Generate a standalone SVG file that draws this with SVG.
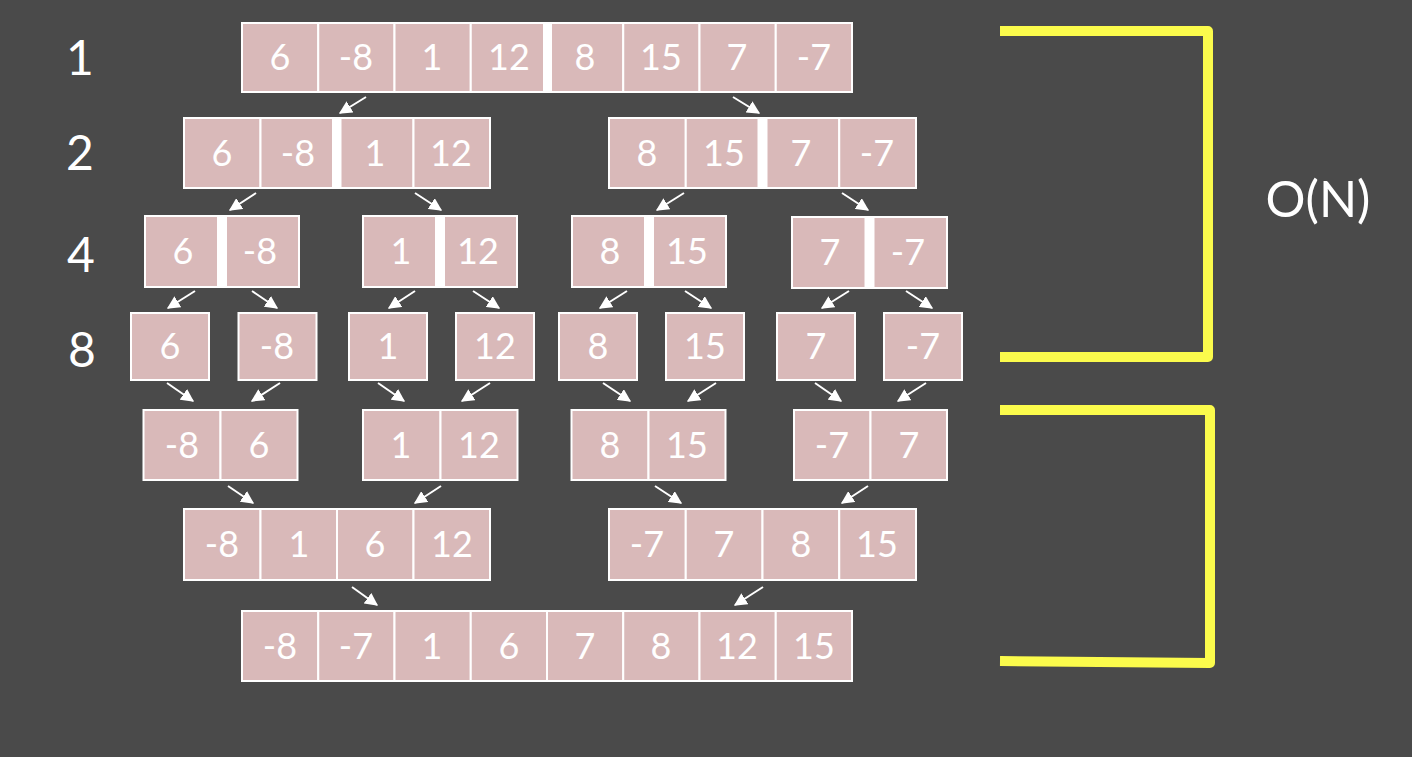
<svg xmlns="http://www.w3.org/2000/svg" width="1412" height="757" viewBox="0 0 1412 757">
<defs>
<style>
.c{fill:#d9b9b9;stroke:#ffffff;stroke-width:2}
.bar{fill:#ffffff}
.t{font-family:Lato,"Open Sans","Liberation Sans",sans-serif;font-size:36px;fill:#ffffff;text-anchor:middle}
.lbl{font-family:Lato,"Open Sans","Liberation Sans",sans-serif;font-size:48px;fill:#ffffff;text-anchor:middle}
.on{font-family:Lato,"Open Sans","Liberation Sans",sans-serif;font-size:50px;fill:#ffffff;text-anchor:middle}
.ar{stroke:#ffffff;stroke-width:2;fill:none;marker-end:url(#ah)}
.br{stroke:#fbfb4c;stroke-width:10;fill:none;stroke-linejoin:round}
</style>
<marker id="ah" viewBox="0 0 10 10" refX="9" refY="5" markerWidth="13" markerHeight="13" markerUnits="userSpaceOnUse" orient="auto">
<path d="M0,0 L10,5 L0,10 z" fill="#ffffff"/>
</marker>
</defs>
<rect width="1412" height="757" fill="#4a4a4a"/>

<g id="level-labels">
<text class="lbl" x="80" y="75">1</text>
<text class="lbl" x="80" y="170">2</text>
<text class="lbl" x="81" y="272">4</text>
<text class="lbl" x="82" y="367">8</text>
</g>

<g id="row1">
<rect class="c" x="242" y="23" width="76.25" height="69"/>
<rect class="c" x="318.25" y="23" width="76.25" height="69"/>
<rect class="c" x="394.5" y="23" width="76.25" height="69"/>
<rect class="c" x="470.75" y="23" width="76.25" height="69"/>
<rect class="c" x="547" y="23" width="76.25" height="69"/>
<rect class="c" x="623.25" y="23" width="76.25" height="69"/>
<rect class="c" x="699.5" y="23" width="76.25" height="69"/>
<rect class="c" x="775.75" y="23" width="76.25" height="69"/>
<rect class="bar" x="543" y="22" width="9" height="71"/>
<text class="t" x="280" y="70">6</text>
<text class="t" x="356" y="70">-8</text>
<text class="t" x="432" y="70">1</text>
<text class="t" x="509" y="70">12</text>
<text class="t" x="585" y="70">8</text>
<text class="t" x="661" y="70">15</text>
<text class="t" x="737" y="70">7</text>
<text class="t" x="814" y="70">-7</text>
</g>

<g id="row2-left">
<rect class="c" x="184" y="118" width="76.5" height="70"/>
<rect class="c" x="260.5" y="118" width="76.5" height="70"/>
<rect class="c" x="337" y="118" width="76.5" height="70"/>
<rect class="c" x="413.5" y="118" width="76.5" height="70"/>
<rect class="bar" x="332" y="117" width="9.5" height="72"/>
<text class="t" x="222" y="166">6</text>
<text class="t" x="298" y="166">-8</text>
<text class="t" x="375" y="166">1</text>
<text class="t" x="451" y="166">12</text>
</g>
<g id="row2-right">
<rect class="c" x="609" y="118" width="76.75" height="70"/>
<rect class="c" x="685.75" y="118" width="76.75" height="70"/>
<rect class="c" x="762.5" y="118" width="76.75" height="70"/>
<rect class="c" x="839.25" y="118" width="76.75" height="70"/>
<rect class="bar" x="757.5" y="117" width="10" height="72"/>
<text class="t" x="647" y="166">8</text>
<text class="t" x="724" y="166">15</text>
<text class="t" x="801" y="166">7</text>
<text class="t" x="877" y="166">-7</text>
</g>

<g id="row4-a">
<rect class="c" x="145" y="216" width="77" height="71"/>
<rect class="c" x="222" y="216" width="77" height="71"/>
<rect class="bar" x="217" y="215" width="10" height="73"/>
<text class="t" x="183" y="264">6</text>
<text class="t" x="260" y="264">-8</text>
</g>
<g id="row4-b">
<rect class="c" x="363" y="216" width="77" height="71"/>
<rect class="c" x="440" y="216" width="77" height="71"/>
<rect class="bar" x="435" y="215" width="10" height="73"/>
<text class="t" x="401" y="264">1</text>
<text class="t" x="478" y="264">12</text>
</g>
<g id="row4-c">
<rect class="c" x="572" y="216" width="77" height="71"/>
<rect class="c" x="649" y="216" width="77" height="71"/>
<rect class="bar" x="644" y="215" width="10" height="73"/>
<text class="t" x="610" y="264">8</text>
<text class="t" x="687" y="264">15</text>
</g>
<g id="row4-d">
<rect class="c" x="792" y="217" width="77.5" height="71"/>
<rect class="c" x="869.5" y="217" width="77.5" height="71"/>
<rect class="bar" x="864.5" y="216" width="10" height="73"/>
<text class="t" x="830" y="265">7</text>
<text class="t" x="908" y="265">-7</text>
</g>

<g id="row8">
<rect class="c" x="131" y="313" width="78" height="67"/>
<rect class="c" x="238.5" y="313" width="78" height="67"/>
<rect class="c" x="349" y="313" width="78" height="67"/>
<rect class="c" x="456" y="313" width="78" height="67"/>
<rect class="c" x="559" y="313" width="78" height="67"/>
<rect class="c" x="666" y="313" width="78" height="67"/>
<rect class="c" x="777" y="313" width="78" height="67"/>
<rect class="c" x="884" y="313" width="78" height="67"/>
<text class="t" x="170" y="359">6</text>
<text class="t" x="277" y="359">-8</text>
<text class="t" x="388" y="359">1</text>
<text class="t" x="495" y="359">12</text>
<text class="t" x="598" y="359">8</text>
<text class="t" x="705" y="359">15</text>
<text class="t" x="816" y="359">7</text>
<text class="t" x="923" y="359">-7</text>
</g>

<g id="row5-a">
<rect class="c" x="143.5" y="410" width="77" height="70"/>
<rect class="c" x="220.5" y="410" width="77" height="70"/>
<text class="t" x="182" y="458">-8</text>
<text class="t" x="259" y="458">6</text>
</g>
<g id="row5-b">
<rect class="c" x="363" y="410" width="77.5" height="70"/>
<rect class="c" x="440.5" y="410" width="77" height="70"/>
<text class="t" x="401" y="458">1</text>
<text class="t" x="479" y="458">12</text>
</g>
<g id="row5-c">
<rect class="c" x="571.5" y="410" width="77" height="70"/>
<rect class="c" x="648.5" y="410" width="77" height="70"/>
<text class="t" x="610" y="458">8</text>
<text class="t" x="687" y="458">15</text>
</g>
<g id="row5-d">
<rect class="c" x="794" y="410" width="76.5" height="70"/>
<rect class="c" x="870.5" y="410" width="76.5" height="70"/>
<text class="t" x="832" y="458">-7</text>
<text class="t" x="909" y="458">7</text>
</g>

<g id="row6-left">
<rect class="c" x="184" y="509" width="76.5" height="71"/>
<rect class="c" x="260.5" y="509" width="76.5" height="71"/>
<rect class="c" x="337" y="509" width="76.5" height="71"/>
<rect class="c" x="413.5" y="509" width="76.5" height="71"/>
<text class="t" x="222" y="557">-8</text>
<text class="t" x="299" y="557">1</text>
<text class="t" x="375" y="557">6</text>
<text class="t" x="452" y="557">12</text>
</g>
<g id="row6-right">
<rect class="c" x="609" y="509" width="76.75" height="71"/>
<rect class="c" x="685.75" y="509" width="76.75" height="71"/>
<rect class="c" x="762.5" y="509" width="76.75" height="71"/>
<rect class="c" x="839.25" y="509" width="76.75" height="71"/>
<text class="t" x="647" y="557">-7</text>
<text class="t" x="724" y="557">7</text>
<text class="t" x="801" y="557">8</text>
<text class="t" x="877" y="557">15</text>
</g>

<g id="row7">
<rect class="c" x="242" y="611" width="76.25" height="70"/>
<rect class="c" x="318.25" y="611" width="76.25" height="70"/>
<rect class="c" x="394.5" y="611" width="76.25" height="70"/>
<rect class="c" x="470.75" y="611" width="76.25" height="70"/>
<rect class="c" x="547" y="611" width="76.25" height="70"/>
<rect class="c" x="623.25" y="611" width="76.25" height="70"/>
<rect class="c" x="699.5" y="611" width="76.25" height="70"/>
<rect class="c" x="775.75" y="611" width="76.25" height="70"/>
<text class="t" x="280" y="659">-8</text>
<text class="t" x="356" y="659">-7</text>
<text class="t" x="432" y="659">1</text>
<text class="t" x="509" y="659">6</text>
<text class="t" x="585" y="659">7</text>
<text class="t" x="661" y="659">8</text>
<text class="t" x="737" y="659">12</text>
<text class="t" x="814" y="659">15</text>
</g>

<g id="connectors">
<line class="ar" x1="366" y1="97" x2="340" y2="113"/>
<line class="ar" x1="733" y1="97" x2="759" y2="113"/>
<line class="ar" x1="256" y1="193" x2="230" y2="210"/>
<line class="ar" x1="415" y1="193" x2="441" y2="210"/>
<line class="ar" x1="684" y1="193" x2="657" y2="210"/>
<line class="ar" x1="842" y1="193" x2="868" y2="210"/>
<line class="ar" x1="195" y1="291" x2="168" y2="308"/>
<line class="ar" x1="252" y1="291" x2="277" y2="308"/>
<line class="ar" x1="415" y1="291" x2="389" y2="308"/>
<line class="ar" x1="473" y1="291" x2="499" y2="308"/>
<line class="ar" x1="627" y1="291" x2="600" y2="308"/>
<line class="ar" x1="685" y1="291" x2="711" y2="308"/>
<line class="ar" x1="849" y1="291" x2="822" y2="308"/>
<line class="ar" x1="906" y1="291" x2="932" y2="308"/>
<line class="ar" x1="167" y1="383" x2="193" y2="401"/>
<line class="ar" x1="280" y1="383" x2="252" y2="401"/>
<line class="ar" x1="378" y1="383" x2="404" y2="401"/>
<line class="ar" x1="490" y1="383" x2="462" y2="401"/>
<line class="ar" x1="603" y1="383" x2="630" y2="401"/>
<line class="ar" x1="716" y1="383" x2="688" y2="401"/>
<line class="ar" x1="815" y1="383" x2="841" y2="401"/>
<line class="ar" x1="926" y1="383" x2="898" y2="401"/>
<line class="ar" x1="228" y1="486" x2="253" y2="503"/>
<line class="ar" x1="441" y1="486" x2="415" y2="503"/>
<line class="ar" x1="655" y1="486" x2="681" y2="503"/>
<line class="ar" x1="868" y1="486" x2="842" y2="503"/>
<line class="ar" x1="352" y1="587" x2="377" y2="605"/>
<line class="ar" x1="763" y1="587" x2="735" y2="605"/>
</g>

<g id="brackets">
<path class="br" d="M1000,31 H1208 V357 H1000"/>
<path class="br" d="M1000,410 H1210 V663 L1000,661"/>
</g>

<g id="complexity">
<text class="on" x="1318" y="217">O(N)</text>
</g>
</svg>
